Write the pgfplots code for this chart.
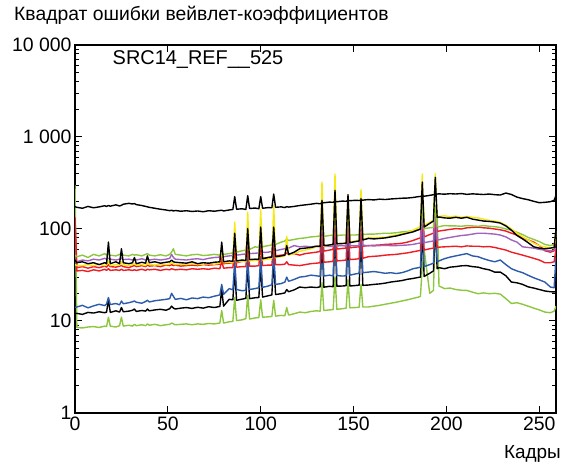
\documentclass[border=0pt]{standalone}
\usepackage{pgfplots}
\usepackage{pgfplotstable}
\usepackage{fontspec}
\setmainfont{Liberation Sans}
\pgfplotsset{compat=1.18}
\definecolor{cgreen}{RGB}{141,198,63}
\definecolor{cyellow}{RGB}{245,232,20}
\definecolor{cpurple}{RGB}{160,100,190}
\definecolor{cred}{RGB}{238,29,36}
\definecolor{cblue}{RGB}{43,91,170}
\pgfplotstableread{
f tb gu y bm p ru rl b bl gl
0 175 52 41 46 45 135 120 14 12 300
1 172 50 40 43 44 38 35 14.2 12.1 8.5
4 168 52 40 44 46 39 35.5 14.8 11.8 8.4
7 176 49 41 42 45 37.5 34.5 13.9 12.4 8.6
10 170 53 40 43 47 39 36 14.6 12.2 8.7
13 174 51 41.5 41 46 38 35 15.2 12.6 8.5
16 179 54 40 43 48 39.5 36.5 14.7 12.3 8.8
17 176 52 41 42 47 38.5 35.5 15.3 12.5 8.7
18 180 53 45 72 48 41 37 18 17 11
19 177 52 40 42 47 39 35.5 15.1 12.4 8.8
22 183 51 41 44 46 38.5 36 15.5 12.9 8.6
24 178 53 40.5 42 47 39.5 35.5 15.0 12.5 8.9
25 181 54 44 61 48 40 36.5 16.5 14 11
26 186 52 41 43 46.5 39 35.5 15.4 12.6 8.8
29 190 51 40 42 47 38 36 15.8 12.8 9.0
31 187 53 41 43 46 39.5 35.5 16.2 13.1 8.8
32 189 52 42 49 47 40 36 16.5 13.5 9.2
33 184 52.5 40.5 42 46 39 35.5 16.0 12.7 8.9
36 180 51 41 43.5 47.5 40 36.5 15.6 13.0 9.1
38 176 53 40 42.5 46 39 35.5 16.3 12.8 8.9
39 174 54 43 51 47 40.5 36.5 16.8 13.5 9.3
40 172 52 41 43 46 39.5 36 16.1 12.9 9.0
43 168 51 40.5 44 47 40 36.5 16.6 13.2 9.2
46 164 52.5 41.5 42.5 46 39 35.5 16.9 13.4 8.9
49 161 51 41 43.5 47 40.5 36.5 17.2 13.1 9.1
51 158 53 41.5 44 48 40 36 17.5 13.6 9.2
52 160 56 43 46 53 41 37 20 14.5 9.5
53 157 61 42 44 49 40 36.5 18.5 13.8 9.3
54 159 53 41 43.5 47 40.5 36 17.2 13.5 9.1
57 156 52 41.5 43 46.5 39.5 36.5 17.6 13.8 9.2
60 158 51 41 42.5 46 40 36 17.0 14.0 9.3
63 155 52.5 42 44 47 40.5 37 17.8 13.7 9.1
66 157 53 41 42 47.5 40 36.5 17.5 14.1 9.3
69 154 51.5 41.5 43 46.5 41 37 18.2 13.8 9.2
72 158 52 42 42.5 48 40.5 36.5 17.9 14.3 9.4
75 156 53 41.5 43.5 49 41 37.5 18.6 14.0 9.3
78 159 52 42.5 44 49.5 41.5 37 19.2 14.4 9.5
79 160 56 60 72 55 50 45 25 22 13
80 157 53 43 44 50 42 37.5 19.5 14.5 9.5
83 161 54 43.5 45 51 42.5 38 22.5 17.2 9.8
85 163 55 43 44.5 51.5 43 38 21.8 17.0 9.9
86 225 75 119 90 70 70 60 45 35 18
87 164 56 44 45 52 43 38.5 22.0 16.8 10.1
90 166 58 44.5 46 53 44.5 39 21.3 17.3 10.3
92 163 59 44 45.5 53.5 45 39 21.6 17.6 10.6
93 230 80 153 101 75 75 65 50 40 19
94 167 60 45 46.5 54 45.5 39.5 22.0 17.5 10.5
97 169 64 45.5 47 54.5 46.5 39.5 22.5 17.9 10.8
99 166 63 46 46.5 55 47 40 23.0 18.0 10.9
100 225 80 163 105 78 80 68 50 40 17
101 168 64 46 47.5 55.5 48 40 23.2 18.2 11.0
104 171 66 47 49 56 49 40.5 24.0 18.8 11.1
106 170 67 48 49.5 57 50 40.5 24.8 19.2 11.2
107 240 85 181 105 80 80 70 55 45 16.8
108 172 68 49 50 58 51 41 25.0 19.4 11.3
111 174 72 50 51 60 52 41 25.5 19.8 11.5
113 171 74 51 52 61 52.5 41.5 26.5 20.2 11.4
114 175 78 83 66 64 55 44 30 22 14
115 173 75 52 53 62 53 41 27.0 20.8 11.6
118 176 77 54 56 66 54 40.5 28.3 21.8 12.0
121 180 79 57 61 64 52 40 30.0 23.4 12.5
124 183 80 59 62 65 54 41 30.5 23.0 12.3
127 186 82 61 63 64 55 42 31.5 23.4 12.7
130 190 83 64 65 65 56 42.5 31.0 23.1 12.9
132 188 84 65 64.5 65.5 57 43 30.5 23.5 12.8
133 192 150 324 205 150 150 130 100 80 26
134 193 83 65 66 65 57.5 43.5 30.8 23.3 13.0
137 196 85 67 67 64.5 59 44 31.5 23.8 13.2
139 195 86 68 68 65 60 44.5 30.9 23.6 13.3
140 200 180 395 263 180 180 160 120 100 30
141 198 85 69 69 65.5 60.5 45 31.2 23.9 13.4
144 201 86 70 69.5 66 61.5 45.5 30.8 24.0 13.6
146 200 86 71 70 65 62 46 31.0 24.2 13.8
147 205 170 235 236 170 170 150 110 90 28
148 203 86 72 71 66 62.5 46.5 31.5 24.0 13.9
151 205 86 74 73 65.5 63.5 47 32.5 24.3 14.0
153 204 87 76 74 66 64 47.5 33.0 24.5 14.1
154 206 160 268 214 160 160 140 100 80 25
155 206 87 78 76 66.5 65 48 33.5 24.4 14.2
158 209 88 80 79 66 66 50 34.0 24.6 14.2
161 207 88 80 78 65.5 66.5 50.5 34.5 25.0 14.5
164 211 89 81 79 66 67 51 33.8 25.3 14.8
167 209 90 81 80 66.5 68 52 33.0 25.8 15.2
170 212 90 84 82 66 68.5 52.5 33.5 26.5 15.6
173 214 91 86 84 66 69 53 32.8 27.0 16.0
176 216 93 89 87 66.5 70 54 33.5 27.5 16.5
179 217 94 92 90 67 72 55 35.0 28.4 17.0
182 220 96 97 93 68 75 56.5 37.0 29.0 17.6
185 225 99 104 98 70 79 58 38.0 29.8 18.2
186 226 100 106 100 70.5 80 58.5 38.5 30.0 18.5
187 228 170 395 324 170 170 150 120 100 40
188 227 101 110 105 71 82 59 39.0 30.5 60
191 232 103 118 115 73 87 61 41.0 33.0 20.0
193 236 104 125 122 74 90 62 42.5 35.0 21.5
194 238 180 400 365 180 180 160 130 110 100
195 240 106 135 134 76 94 63 44.0 37.0 160
196 241 106 137 135 76.5 95 63.5 45.0 38.0 24.0
199 239 109 139 132 79 97 64 47.6 37.0 22.5
202 242 108 136 131 81 99 64.5 49.5 38.5 22.8
205 240 108 138 134 83 101 65 51.0 39.0 22.0
208 243 107 134 131 85 100 64 52.5 39.8 21.6
211 238 109 137 134 86 103 65.5 54.0 40.0 21.5
214 241 108 134 128 88 104 65 51.0 39.0 20.6
217 239 107 132 125 90 105 65 50.0 38.5 19.8
220 237 109 128 122 90 103 64 47.5 37.0 20.2
223 240 107 124 121 89 102 64.5 45.5 36.0 19.8
226 236 106 122 119 88 100 63 44.0 34.0 20.0
229 234 104 118 116 86 98 61 46.0 34.0 19.6
232 246 100 110 108 82 95 59 41.0 31.0 17.5
235 237 97 100 97 76 90 56 37.0 26.5 15.5
238 222 92 90 85 72 86 54 35.0 26.0 15.8
241 214 87 82 78 64 80 52 33.5 25.0 15.2
244 208 81 76 71 63 76 50 31.4 23.5 14.5
247 200 77 70 64 62 72 48 29.5 22.8 13.8
250 193 73 66 62 60 66 46 28.0 22.0 13.2
253 195 68 64 61 59 58 43 26.5 21.2 12.5
256 198 66 62 62 58 56 43 23.4 20.8 12.3
258 205 68 63 63 59 58 44 23.0 20.7 12.8
259 232 77 95 100 62 97 60 50 21 14.5
}\data
\begin{document}
\begin{tikzpicture}
\useasboundingbox (0,0) rectangle (568bp,462bp);
\begin{axis}[
  at={(75bp,49bp)}, anchor=south west,
  width=481bp, height=368bp, scale only axis,
  ymode=log, ymin=1, ymax=10000,
  xmin=0, xmax=259,
  xtick={0,50,100,150,200,250},
  ytick={1,10,100,1000,10000},
  yticklabels={1,10,100,1 000,10 000},
  /pgf/number format/assume math mode=true,
  tick label style={font=\fontsize{19.5}{22}\selectfont},
  tick align=inside, tick pos=both,
  major tick length=7bp, minor tick length=4bp,
  axis line style={line width=1.3bp},
  every tick/.style={black, line width=1bp},
  clip=true,
  every axis plot/.append style={line width=1.4bp, line join=round, no markers},
]
\addplot[cgreen] table[x=f,y=gl]{\data};
\addplot[black] table[x=f,y=bl]{\data};
\addplot[cblue] table[x=f,y=b]{\data};
\addplot[cred] table[x=f,y=rl]{\data};
\addplot[cred] table[x=f,y=ru]{\data};
\addplot[cpurple] table[x=f,y=p]{\data};
\addplot[cgreen] table[x=f,y=gu]{\data};
\addplot[cyellow] table[x=f,y=y]{\data};
\addplot[black] table[x=f,y=bm]{\data};
\addplot[black] table[x=f,y=tb]{\data};
\node[anchor=base west, inner sep=0, font=\fontsize{20}{24}\selectfont] at (rel axis cs:0.078,0.946) {SRC14\_REF\_\_525};
\end{axis}
\node[anchor=base west, inner sep=0, font=\fontsize{19.4}{23}\selectfont] at (14bp,441.4bp) {Квадрат ошибки вейвлет-коэффициентов};
\node[anchor=base east, inner sep=0, font=\fontsize{19}{22}\selectfont] at (561bp,4bp) {Кадры};
\end{tikzpicture}
\end{document}
